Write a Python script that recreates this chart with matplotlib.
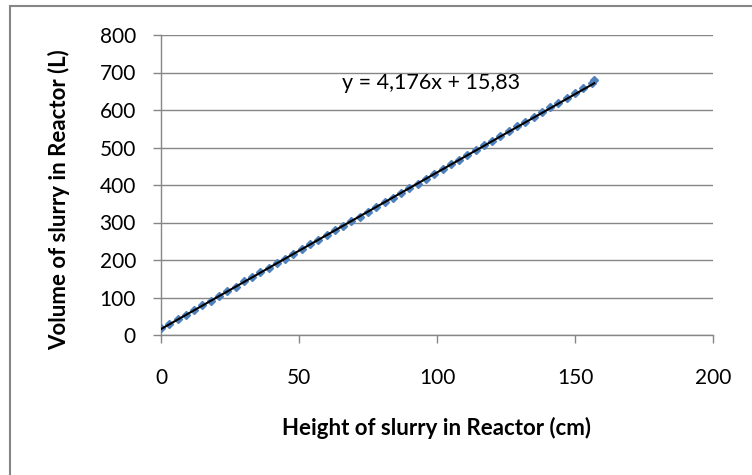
import numpy as np
import matplotlib.pyplot as plt
from matplotlib.patches import Rectangle

# Reactor calibration: slurry height (cm) vs. volume (L)
height = [0, 3, 6, 9, 12, 15, 18, 21, 24, 27, 30, 33, 36, 39, 42, 45, 48, 51,
          54, 57, 60, 63, 66, 69, 72, 75, 78, 81, 84, 87, 90, 93, 96, 99, 102,
          105, 108, 111, 114, 117, 120, 123, 126, 129, 132, 135, 138, 141, 144,
          147, 150, 153, 156, 157]
volume = [18, 30, 42, 54, 67, 79, 92, 105, 117, 129, 143, 154, 167, 179, 192,
          204, 217, 229, 242, 254, 266, 279, 291, 304, 316, 329, 341, 354, 366,
          379, 392, 404, 417, 430, 442, 455, 467, 480, 493, 506, 518, 531, 544,
          557, 569, 582, 594, 607, 620, 633, 646, 659, 672, 681]

slope, intercept = 4.176, 15.83
eq_label = "y = 4,176x + 15,83"

plt.rcParams['font.family'] = ['Lato', 'DejaVu Sans']
grey = '#868686'

fig = plt.figure(figsize=(7.52, 4.75), dpi=100)
fig.patches.append(Rectangle((10 / 752, -0.05), 1.1, 1 - 6 / 475 + 0.05,
                             transform=fig.transFigure, fill=False,
                             edgecolor=grey, lw=1.5))
ax = fig.add_axes([161 / 752, 1 - 335 / 475, 552 / 752, 300 / 475])

ax.plot(height, volume, linestyle='none', marker='D', markersize=4.5,
        color='#4F81BD', zorder=3)
xs = np.array([min(height), max(height)])
ax.plot(xs, slope * xs + intercept, color='black', lw=1.5, zorder=4)
ax.text(98, 672, eq_label, fontsize=15.5, ha='center', va='center')

ax.set_xlim(0, 200)
ax.set_ylim(0, 800)
ax.set_xticks(range(0, 201, 50))
ax.set_yticks(range(0, 801, 100))
ax.grid(axis='y', color=grey, lw=1)
ax.set_axisbelow(True)
for s in ['top', 'right']:
    ax.spines[s].set_visible(False)
for s in ['left', 'bottom']:
    ax.spines[s].set_color(grey)
    ax.spines[s].set_linewidth(1)
ax.tick_params(colors=grey, labelcolor='black', labelsize=15, length=6,
               width=1)
ax.tick_params(axis='y', pad=12)
ax.tick_params(axis='x', pad=18)
ax.set_xlabel('Height of slurry in Reactor (cm)', fontsize=16,
              fontweight='bold', va='center')
ax.set_ylabel('Volume of slurry in Reactor (L)', fontsize=16,
              fontweight='bold', va='center')
ax.xaxis.set_label_coords(0.5, (335 - 428) / 300)
ax.yaxis.set_label_coords((59 - 161) / 552, (335 - 200) / 300)

fig.savefig('out.png', dpi=100)
